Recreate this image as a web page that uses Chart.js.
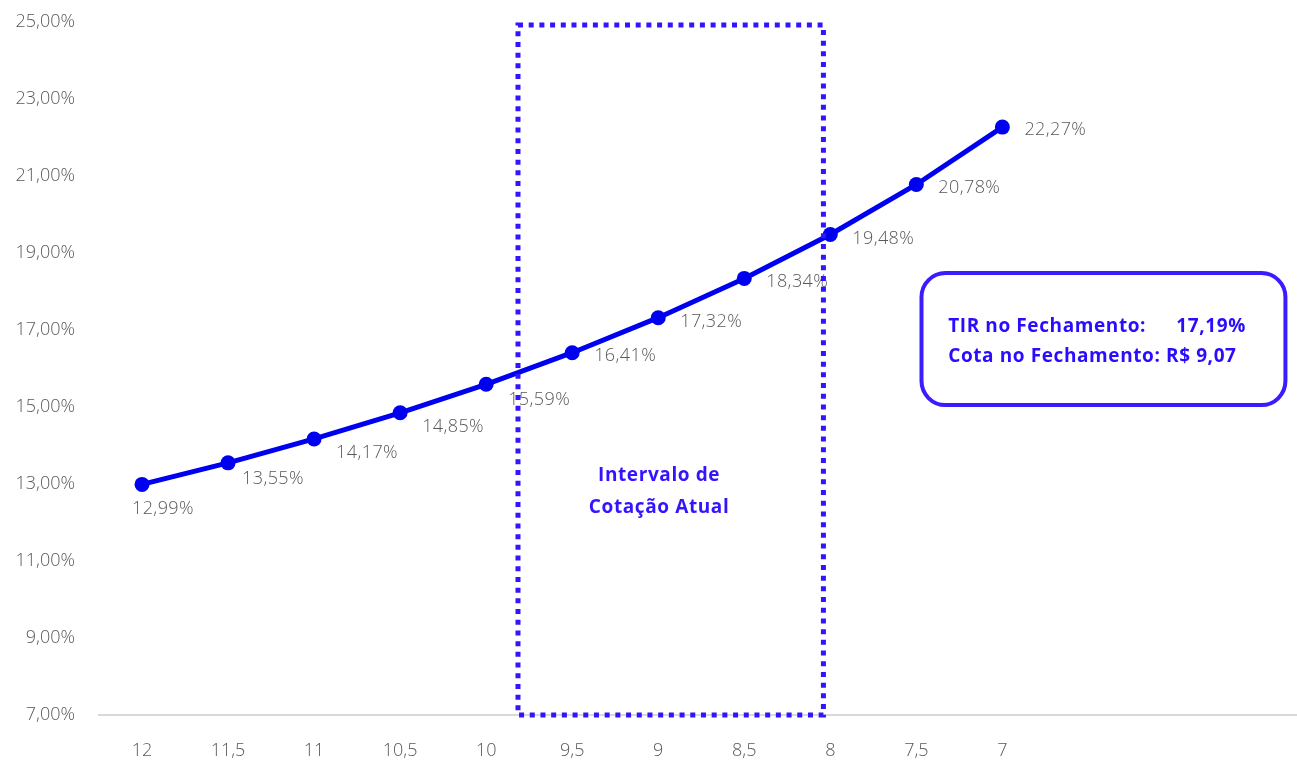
<!DOCTYPE html>
<html>
<head>
<meta charset="utf-8">
<script src="https://cdn.jsdelivr.net/npm/chart.js@4"></script>
<style>
  html, body { margin: 0; padding: 0; background: #fff; overflow: hidden; }
  /* a bit wider than the window: the plot runs off the right edge as in the original */
  #wrap { width: 1311px; height: 760px; position: relative; }
  canvas { display: block; }
</style>
</head>
<body>
<div id="wrap"><canvas id="myChart"></canvas></div>
<script>
// chart data
var precos = ['12', '11,5', '11', '10,5', '10', '9,5', '9', '8,5', '8', '7,5', '7', '', '', ''];
var tir = [12.99, 13.55, 14.17, 14.85, 15.59, 16.41, 17.32, 18.34, 19.48, 20.78, 22.27];
var yTicks = [7, 9, 11, 13, 15, 17, 19, 21, 23, 25];

// label offsets (px) relative to each point
var labelDx = [-10, 14, 22, 22, 22, 22, 22, 22, 22, 22, 22];
var labelDy = [24, 16, 14, 14, 16, 3, 4, 3, 4, 3, 3];

var FONT = '"Open Sans"';

function pct(v) { return v.toFixed(2).replace('.', ',') + '%'; }

var extras = {
  id: 'extras',
  afterDatasetsDraw: function (chart) {
    var c = chart.ctx, xs = chart.scales.x, ys = chart.scales.y;
    var meta = chart.getDatasetMeta(0);
    c.save();
    // data labels
    c.font = '300 18px ' + FONT;
    c.letterSpacing = '0.4px';
    c.fillStyle = '#595959';
    c.textBaseline = 'middle';
    c.textAlign = 'left';
    meta.data.forEach(function (p, i) {
      c.fillText(pct(tir[i]), p.x + labelDx[i], p.y + labelDy[i]);
    });

    // dotted interval box
    var x1 = xs.getPixelForValue(4.37), x2 = xs.getPixelForValue(7.92);
    var y1 = ys.getPixelForValue(24.92), y2 = ys.getPixelForValue(7);
    c.strokeStyle = '#3214ff';
    c.lineWidth = 5;
    c.setLineDash([5, 5.7]);
    c.strokeRect(x1, y1, x2 - x1, y2 - y1);
    c.setLineDash([]);

    c.fillStyle = '#3214ff';
    c.font = 'bold 19px ' + FONT;
    c.letterSpacing = '0.6px';
    c.textAlign = 'center';
    var cx = xs.getPixelForValue(6.01);
    c.fillText('Intervalo de', cx, ys.getPixelForValue(13.21));
    c.fillText('Cotação Atual', cx, ys.getPixelForValue(12.38));

    // info box
    var bx1 = xs.getPixelForValue(9.06), bx2 = xs.getPixelForValue(13.29);
    var by1 = ys.getPixelForValue(18.48), by2 = ys.getPixelForValue(15.05);
    c.strokeStyle = '#3a1cff';
    c.lineWidth = 4;
    c.beginPath();
    c.roundRect(bx1, by1, bx2 - bx1, by2 - by1, 24);
    c.stroke();
    c.fillStyle = '#2a0cff';
    c.textAlign = 'left';
    var tx = xs.getPixelForValue(9.37);
    c.fillText('TIR no Fechamento:', tx, ys.getPixelForValue(17.1));
    c.fillText('Cota no Fechamento: R$ 9,07', tx, ys.getPixelForValue(16.3));
    c.textAlign = 'right';
    c.fillText('17,19%', xs.getPixelForValue(12.83), ys.getPixelForValue(17.1));
    c.restore();
  }
};

var ctx = document.getElementById('myChart').getContext('2d');
var myChart = new Chart(ctx, {
  type: 'line',
  data: {
    labels: precos,
    datasets: [{
      data: tir,
      borderColor: '#0000f0',
      backgroundColor: '#0000f0',
      borderWidth: 5,
      pointRadius: 7.5,
      pointHoverRadius: 7.5,
      pointBorderWidth: 0,
      tension: 0
    }]
  },
  options: {
    responsive: true,
    maintainAspectRatio: false,
    animation: false,
    layout: { padding: { top: 22, right: 0, left: 0, bottom: 0 } },
    plugins: { legend: { display: false }, tooltip: { enabled: false } },
    scales: {
      x: {
        offset: true,
        grid: { display: false, drawTicks: false },
        border: { display: true, color: '#d9d9d9', width: 2 },
        ticks: { color: '#595959', font: { family: FONT, size: 18, weight: 300 }, padding: 25, maxRotation: 0, autoSkip: false },
        afterFit: function (s) { s.height = 45; s.paddingLeft = 0; s.paddingRight = 0; }
      },
      y: {
        min: 7,
        max: 25,
        grid: { display: false, drawTicks: false },
        border: { display: false },
        afterBuildTicks: function (s) { s.ticks = yTicks.map(function (v) { return { value: v }; }); },
        ticks: {
          color: '#595959',
          font: { family: FONT, size: 18, weight: 300 },
          padding: 24,
          callback: function (v) { return pct(v); }
        },
        afterFit: function (s) { s.width = 99; s.paddingTop = 0; s.paddingBottom = 0; }
      }
    }
  },
  plugins: [extras]
});
</script>
</body>
</html>
